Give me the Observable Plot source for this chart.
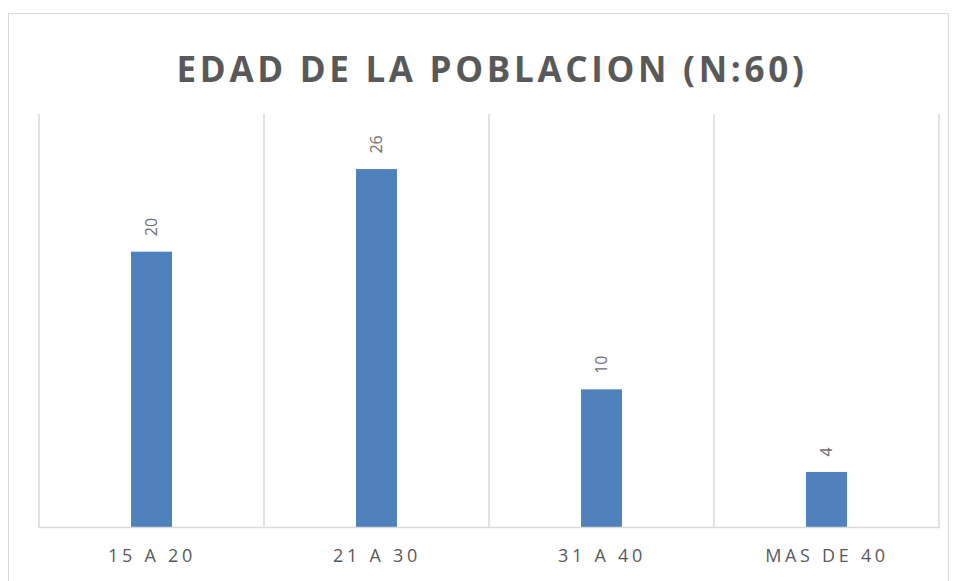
<!DOCTYPE html>
<html>
<head>
<meta charset="utf-8">
<script src="https://cdn.jsdelivr.net/npm/d3@7"></script>
<script src="https://cdn.jsdelivr.net/npm/@observablehq/plot@0.6"></script>
<style>
  html, body { margin: 0; padding: 0; background: #fff; }
  #wrap { position: relative; width: 956px; height: 581px; overflow: hidden; background: #fff; }
  #border { position: absolute; left: 8px; top: 13px; width: 941px; height: 620px; border: 1.5px solid #d9d9d9; box-sizing: border-box; }
  #title { position: absolute; left: 28px; width: 928px; top: 51px; text-align: center;
           font-family: "Open Sans", sans-serif; font-weight: 700; font-size: 35px; line-height: 35px;
           letter-spacing: 3.7px; color: #595959; }
  #chart { position: absolute; left: 0; top: 0; }
  #chart svg [aria-label="x-axis tick label"] text { letter-spacing: 3.7px; }
</style>
</head>
<body>
<div id="wrap">
  <div id="border"></div>
  <div id="title">EDAD DE LA POBLACION (N:60)</div>
  <div id="chart"></div>
</div>
<script>
const categories = ["15 A 20", "21 A 30", "31 A 40", "MAS DE 40"];
const values = [20, 26, 10, 4];
const data = categories.map((c, i) => ({category: c, value: values[i]}));

function gridLines(index, scales, vals, dimensions) {
  const x = scales.x;
  const step = x.step(), bw = x.bandwidth();
  const {marginTop, height, marginBottom} = dimensions;
  const g = d3.create("svg:g");
  const bounds = categories.map(c => x(c) + bw / 2 - step / 2);
  bounds.push(x(categories[categories.length - 1]) + bw / 2 + step / 2);
  g.selectAll("line").data(bounds).join("line")
    .attr("x1", d => d).attr("x2", d => d)
    .attr("y1", marginTop).attr("y2", height - marginBottom)
    .attr("stroke", "#d9d9d9").attr("stroke-width", 1.5);
  return g.node();
}

const plot = Plot.plot({
  width: 956,
  height: 581,
  marginLeft: 38,
  marginRight: 16,
  marginTop: 114,
  marginBottom: 54,
  style: {fontFamily: "'Open Sans', sans-serif", background: "transparent", color: "#595959"},
  x: {domain: categories, paddingInner: 0.82, paddingOuter: 0.41, label: null, tickSize: 0, tickPadding: 22},
  y: {domain: [0, 30], axis: null},
  marks: [
    gridLines,
    Plot.barY(data, {x: "category", y: "value", fill: "#4f81bd"}),
    Plot.ruleY([0], {stroke: "#d9d9d9", strokeWidth: 1.5}),
    Plot.text(data, {x: "category", y: "value", text: d => String(d.value), rotate: -90,
      textAnchor: "start", lineAnchor: "middle", dy: -16, fill: "#6f6f6f", fontSize: 16})
  ]
});
plot.querySelectorAll('[aria-label="x-axis tick label"], [aria-label="x-axis"]').forEach(g => {
  g.setAttribute("font-size", "18");
});
document.getElementById("chart").appendChild(plot);
</script>
</body>
</html>
